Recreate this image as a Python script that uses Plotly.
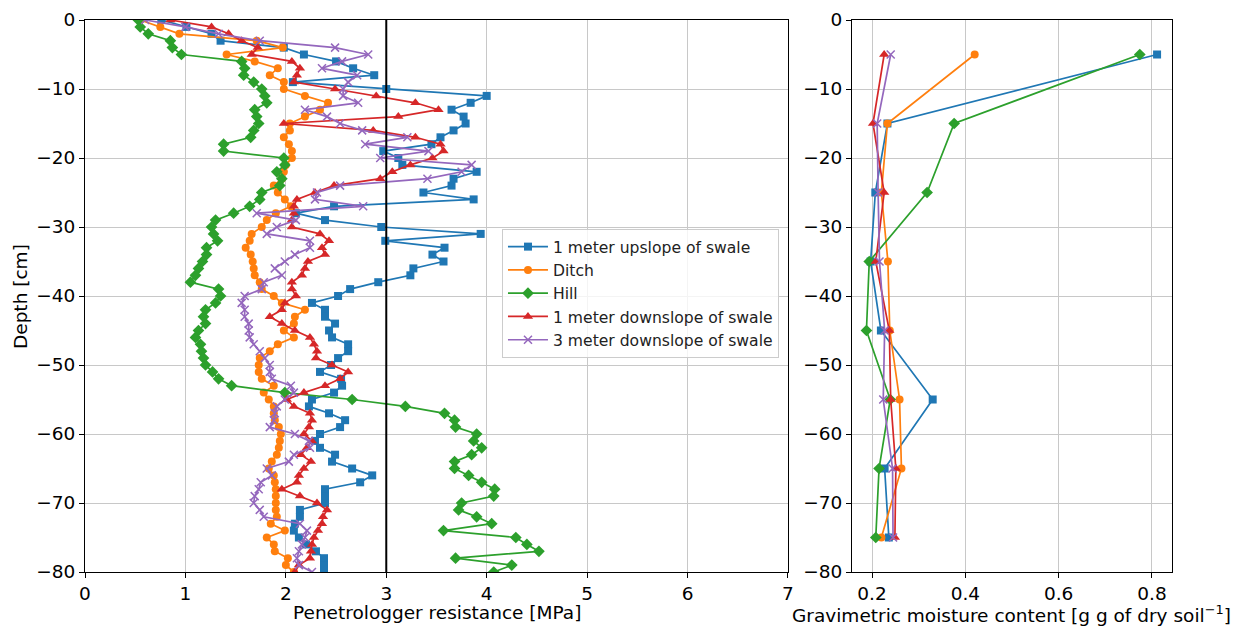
import plotly.graph_objects as go
from plotly.subplots import make_subplots

depth = [-d for d in range(0, 81)]

upslope = [0.76, 1.01, 1.26, 1.35, 1.98, 2.18, 2.5, 2.67, 2.88, 2.07,
           3.0, 4.0, 3.84, 3.65, 3.77, 3.79, 3.67, 3.54, 3.45, 2.97,
           3.12, 3.16, 3.9, 3.67, 3.65, 3.37, 3.87, 2.48, 2.1, 2.39,
           2.95, 3.94, 2.99, 3.58, 3.46, 3.57, 3.27, 3.24, 2.92, 2.64,
           2.52, 2.26, 2.39, 2.39, 2.49, 2.43, 2.46, 2.62, 2.62, 2.52,
           2.45, 2.34, 2.55, 2.56, 2.48, 2.26, 2.23, 2.43, 2.59, 2.54,
           2.34, 2.29, 2.34, 2.49, 2.46, 2.66, 2.86, 2.74, 2.39, 2.39,
           2.39, 2.14, 2.14, 2.09, 2.08, 2.13, 2.2, 2.3, 2.38, 2.38, 2.38]

ditch = [0.55, 0.75, 0.94, 1.71, 1.97, 1.41, 1.69, 1.92, 1.84, 1.98,
         1.98, 2.19, 2.42, 2.34, 2.19, 2.04, 2.04, 1.98, 2.03, 2.06,
         2.06, 2.0, 1.98, 1.96, 1.88, 1.92, 1.99, 2.05, 1.9, 1.81,
         1.76, 1.66, 1.64, 1.6, 1.65, 1.67, 1.68, 1.69, 1.74, 1.76,
         1.88, 1.96, 2.19, 2.09, 2.08, 1.98, 2.08, 1.92, 1.84, 1.74,
         1.73, 1.73, 1.76, 1.88, 1.78, 1.83, 1.88, 1.88, 1.89, 1.93,
         1.95, 1.94, 1.93, 1.91, 1.86, 1.83, 1.88, 1.89, 1.9, 1.9,
         1.9, 1.9, 1.91, 1.85, 1.99, 1.81, 1.88, 1.89, 2.02, 2.0, 2.08]

hill = [0.53, 0.55, 0.63, 0.85, 0.87, 0.96, 1.56, 1.59, 1.58, 1.68,
        1.76, 1.79, 1.81, 1.69, 1.71, 1.73, 1.68, 1.65, 1.38, 1.38,
        1.98, 1.99, 1.91, 1.96, 1.94, 1.76, 1.74, 1.64, 1.48, 1.3,
        1.26, 1.28, 1.32, 1.21, 1.21, 1.17, 1.13, 1.1, 1.05, 1.33,
        1.35, 1.3, 1.2, 1.18, 1.2, 1.13, 1.1, 1.15, 1.16, 1.18,
        1.2, 1.27, 1.33, 1.46, 1.99, 2.66, 3.19, 3.58, 3.68, 3.69,
        3.9, 3.87, 3.95, 3.85, 3.68, 3.68, 3.82, 3.95, 4.08, 4.07,
        3.75, 3.72, 3.9, 4.05, 3.57, 4.29, 4.4, 4.52, 3.69, 4.25, 4.07]

down1 = [0.85, 1.26, 1.43, 1.56, 1.72, 1.66, 2.06, 2.14, 2.11, 2.08,
         2.49, 2.9, 3.29, 3.52, 3.12, 1.98, 2.87, 3.29, 3.54, 3.57,
         3.46, 3.24, 3.06, 2.94, 2.48, 2.29, 2.11, 2.08, 2.08, 2.06,
         2.06, 2.34, 2.43, 2.36, 2.39, 2.22, 2.19, 2.16, 2.06, 2.06,
         2.1, 1.99, 1.96, 1.84, 1.96, 2.09, 2.24, 2.28, 2.31, 2.3,
         2.46, 2.62, 2.54, 2.39, 2.18, 2.01, 2.08, 2.24, 2.26, 2.23,
         2.18, 2.26, 2.21, 2.15, 2.25, 2.18, 2.13, 2.11, 1.96, 2.14,
         2.31, 2.41, 2.37, 2.36, 2.32, 2.28, 2.26, 2.25, 2.24, 2.13, 2.09]

down3 = [0.6, 1.0, 1.33, 1.74, 2.49, 2.82, 2.56, 2.36, 2.71, 2.62,
         2.57, 2.57, 2.72, 2.19, 2.41, 2.54, 2.76, 3.21, 2.79, 3.42,
         2.94, 3.85, 3.75, 3.41, 2.54, 2.31, 2.29, 2.77, 1.71, 2.1,
         1.91, 1.81, 2.24, 2.24, 2.09, 1.99, 1.89, 1.96, 1.78, 1.76,
         1.59, 1.56, 1.59, 1.59, 1.63, 1.63, 1.64, 1.68, 1.74, 1.79,
         1.84, 1.84, 1.86, 2.05, 2.08, 1.99, 1.91, 1.89, 1.88, 1.84,
         2.09, 2.23, 2.24, 2.08, 2.03, 1.81, 1.86, 1.75, 1.73, 1.69,
         1.68, 1.74, 1.78, 2.14, 2.21, 2.19, 2.16, 2.13, 2.11, 2.13, 2.26]

moist_depth = [-5, -15, -25, -35, -45, -55, -65, -75]
moist_upslope = [0.811, 0.233, 0.207, 0.197, 0.219, 0.330, 0.227, 0.236]
moist_ditch = [0.420, 0.233, 0.220, 0.234, 0.238, 0.259, 0.263, 0.220]
moist_hill = [0.774, 0.376, 0.318, 0.194, 0.188, 0.239, 0.215, 0.208]
moist_down1 = [0.226, 0.202, 0.226, 0.208, 0.237, 0.240, 0.251, 0.249]
moist_down3 = [0.240, 0.211, 0.213, 0.216, 0.227, 0.224, 0.244, 0.245]

names = ["1 meter upslope of swale", "Ditch", "Hill",
         "1 meter downslope of swale", "3 meter downslope of swale"]
colors = ["#1f77b4", "#ff7f0e", "#2ca02c", "#d62728", "#9467bd"]
symbols = ["square", "circle", "diamond", "triangle-up", "x-thin"]
sizes = [8, 8, 9, 9, 8]

pen_series = [upslope, ditch, hill, down1, down3]
moist_series = [moist_upslope, moist_ditch, moist_hill, moist_down1, moist_down3]

fig = make_subplots(rows=1, cols=2, horizontal_spacing=0.0)

for i in range(5):
    mk = dict(symbol=symbols[i], size=sizes[i], color=colors[i])
    if symbols[i] == "x-thin":
        mk["line"] = dict(color=colors[i], width=1.5)
    fig.add_trace(go.Scatter(x=pen_series[i], y=depth, mode="lines+markers",
                             name=names[i], line=dict(color=colors[i], width=1.7),
                             marker=mk), row=1, col=1)
for i in range(5):
    mk = dict(symbol=symbols[i], size=sizes[i], color=colors[i])
    if symbols[i] == "x-thin":
        mk["line"] = dict(color=colors[i], width=1.5)
    fig.add_trace(go.Scatter(x=moist_series[i], y=moist_depth, mode="lines+markers",
                             name=names[i], showlegend=False,
                             line=dict(color=colors[i], width=1.7),
                             marker=mk), row=1, col=2)

axis_common = dict(showgrid=True, gridcolor="#c8c8c8", gridwidth=0.8,
                   showline=True, linecolor="black", linewidth=1, mirror=True,
                   ticks="outside", ticklen=5, tickcolor="black", tickwidth=1,
                   zeroline=False, automargin=False,
                   tickfont=dict(size=18.5, color="black"))

fig.update_xaxes(**axis_common)
fig.update_yaxes(**axis_common)

title_font = dict(size=18.5, color="black", family="DejaVu Sans")

fig.update_layout(
    width=1247, height=626,
    margin=dict(l=85, r=75, t=20, b=54, autoexpand=False),
    paper_bgcolor="white", plot_bgcolor="white",
    font=dict(family="DejaVu Sans", color="black"),
    xaxis=dict(domain=[0, 0.6467], range=[0, 7], tickvals=[0, 1, 2, 3, 4, 5, 6, 7]),
    yaxis=dict(range=[-80, 0], tickvals=list(range(-80, 1, 10))),
    xaxis2=dict(domain=[0.7056, 1], range=[0.157, 0.843], tickvals=[0.2, 0.4, 0.6, 0.8]),
    yaxis2=dict(range=[-80, 0], tickvals=list(range(-80, 1, 10))),
    legend=dict(x=0.3836, y=0.6214, xanchor="left", yanchor="top", itemwidth=40,
                bgcolor="rgba(255,255,255,0.8)", bordercolor="#cccccc", borderwidth=1,
                font=dict(size=15.6, color="#222222")),
    shapes=[dict(type="line", xref="x", yref="y domain", x0=3, x1=3, y0=0, y1=1,
                 line=dict(color="black", width=2), layer="above")],
    annotations=[
        dict(text="Penetrologger resistance [MPa]", xref="paper", yref="paper",
             x=0.3234, y=-0.0735, xanchor="center", yanchor="middle",
             showarrow=False, font=title_font),
        dict(text="Gravimetric moisture content [g g of dry soil<sup>\u22121</sup>]",
             xref="paper", yref="paper", x=0.8525, y=-0.0768,
             xanchor="center", yanchor="middle", showarrow=False, font=title_font),
        dict(text="Depth [cm]", xref="paper", yref="paper", x=-0.0598, y=0.5,
             xanchor="center", yanchor="middle", textangle=-90,
             showarrow=False, font=title_font),
    ],
)

fig.write_html("out.html", config={"displayModeBar": False},
               post_script="document.body.style.margin='0px';document.body.style.padding='0px';")
